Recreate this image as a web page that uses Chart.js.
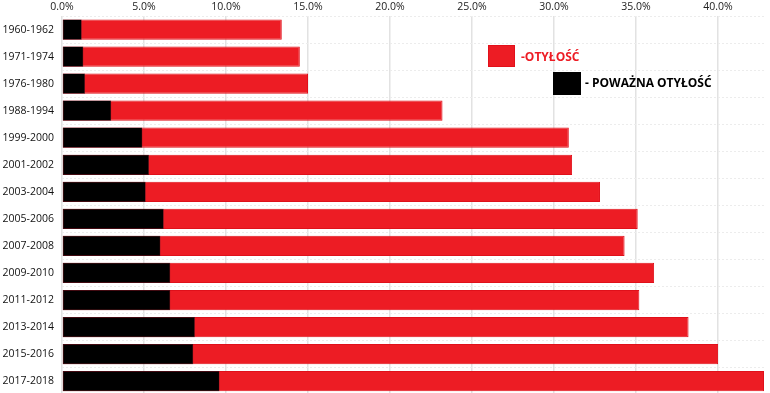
<!DOCTYPE html>
<html>
<head>
<meta charset="utf-8">
<script src="https://cdn.jsdelivr.net/npm/chart.js@4.4.1/dist/chart.umd.min.js"></script>
<style>
  html, body { margin: 0; padding: 0; background: #fff; overflow: hidden; }
  #clip { position: relative; width: 770px; height: 393px; overflow: hidden; }
  #wrap { position: absolute; left: 0; top: 0; width: 770px; height: 409px; }
  .lg-box { position: absolute; box-sizing: border-box; }
  .lg-text { position: absolute; font-family: "Open Sans", sans-serif; font-weight: bold; font-size: 12px; line-height: 14px; white-space: nowrap; }
</style>
</head>
<body>
<div id="clip">
  <div id="wrap"><canvas id="c"></canvas></div>
  <div class="lg-box" style="left:488px;top:45px;width:27px;height:22px;background:#ED1C24;border:1px solid #e2101a;"></div>
  <div class="lg-text" style="left:521px;top:50px;color:#ED1C24;">-OTYŁOŚĆ</div>
  <div class="lg-box" style="left:553px;top:72px;width:28px;height:23px;background:#000;"></div>
  <div class="lg-text" style="left:585px;top:76px;color:#000;">- POWAŻNA OTYŁOŚĆ</div>
</div>
<script>
const categories = ["1960-1962","1971-1974","1976-1980","1988-1994","1999-2000","2001-2002","2003-2004","2005-2006","2007-2008","2009-2010","2011-2012","2013-2014","2015-2016","2017-2018"];
const obesity = [13.4, 14.5, 15.0, 23.2, 30.9, 31.1, 32.8, 35.1, 34.3, 36.1, 35.2, 38.2, 40.0, 42.8];
const severeObesity = [1.2, 1.3, 1.4, 3.0, 4.9, 5.3, 5.1, 6.2, 6.0, 6.6, 6.6, 8.1, 8.0, 9.6];
const xTicks = [0, 5, 10, 15, 20, 25, 30, 35, 40];

new Chart(document.getElementById('c'), {
  type: 'bar',
  data: {
    labels: categories,
    datasets: [
      { label: '- POWAŻNA OTYŁOŚĆ', data: severeObesity, backgroundColor: '#000', borderColor: '#2a1a2a', borderWidth: 0.5, borderSkipped: false },
      { label: '-OTYŁOŚĆ', data: obesity, backgroundColor: '#ED1C24', borderColor: '#e0101a', borderWidth: 1, borderSkipped: false }
    ]
  },
  options: {
    indexAxis: 'y',
    responsive: true,
    maintainAspectRatio: false,
    animation: false,
    layout: { autoPadding: false, padding: { left: 0, right: 6, top: 0, bottom: 0 } },
    plugins: { legend: { display: false }, tooltip: { enabled: false } },
    datasets: { bar: { barPercentage: 0.75, categoryPercentage: 1.0 } },
    scales: {
      x: {
        position: 'top',
        min: 0,
        max: 42.8,
        afterBuildTicks: s => { s.ticks = xTicks.map(v => ({ value: v })); },
        afterFit: s => { s.height = 16; },
        ticks: {
          includeBounds: false,
          padding: 3,
          color: '#222',
          font: { family: '"Open Sans", sans-serif', size: 10.5 },
          callback: v => Number(v).toFixed(1) + '%'
        },
        grid: { color: '#e2e2e2', lineWidth: 1.5, drawTicks: false },
        border: { display: false }
      },
      y: {
        stacked: true,
        afterFit: s => { s.width = 62; },
        ticks: {
          padding: 8,
          color: '#111',
          font: { family: '"Open Sans", sans-serif', size: 10.5 }
        },
        grid: { color: '#ececec', lineWidth: 1, drawTicks: false, offset: true },
        border: { display: false, dash: [2, 2] }
      }
    }
  }
});
</script>
</body>
</html>
